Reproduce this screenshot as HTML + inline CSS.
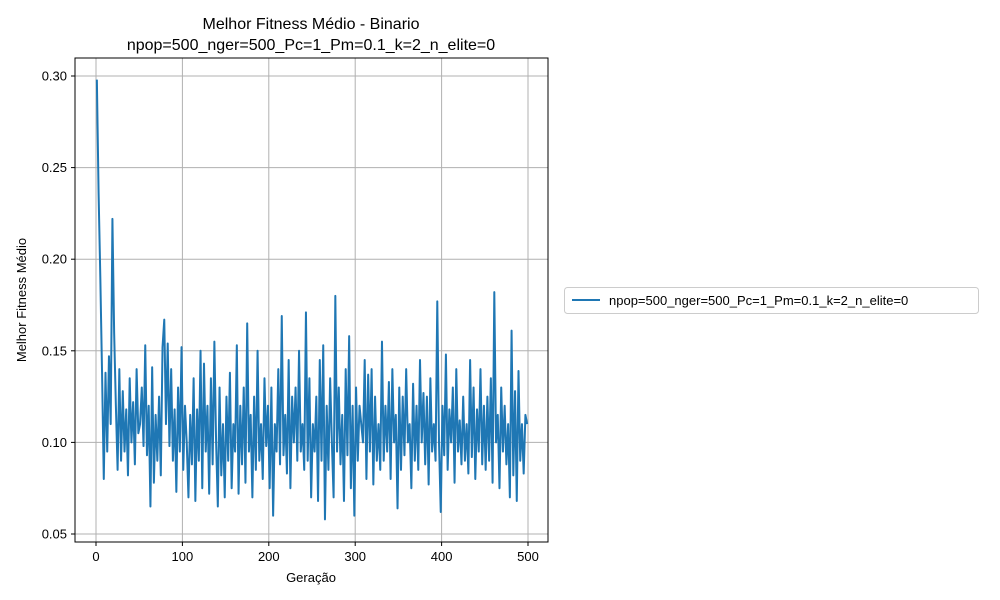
<!DOCTYPE html>
<html><head><meta charset="utf-8">
<style>
html,body{margin:0;padding:0;background:#fff;}
svg{display:block;font-family:"Liberation Sans","DejaVu Sans",sans-serif;}
</style></head>
<body>
<svg id="chart" width="1000" height="600" viewBox="0 0 1000 600">
<text x="311" y="29" font-size="16" text-anchor="middle" fill="#000">Melhor Fitness Médio - Binario</text>
<text x="311" y="50" font-size="16" text-anchor="middle" fill="#000">npop=500_nger=500_Pc=1_Pm=0.1_k=2_n_elite=0</text>
<text x="311" y="582" font-size="13" text-anchor="middle" fill="#000">Geração</text>
<text x="0" y="0" font-size="13" text-anchor="middle" fill="#000" transform="translate(26,300) rotate(-90)">Melhor Fitness Médio</text>
<g id="grid"></g>
<g id="ticks"></g>
<path id="series" fill="none" stroke="#1f77b4" stroke-width="2" stroke-linejoin="round"></path>
<rect x="75" y="58" width="473" height="484" fill="none" stroke="#000" stroke-width="1"/>
<g>
<rect x="564.5" y="287.5" width="414" height="26" rx="3" fill="#fff" stroke="#ccc"/>
<line x1="572" y1="300" x2="600" y2="300" stroke="#1f77b4" stroke-width="2"/>
<text x="609" y="305" font-size="13" fill="#000">npop=500_nger=500_Pc=1_Pm=0.1_k=2_n_elite=0</text>
</g>
</svg>
<script>
const xStart = 1;
const xStep = 2;
const values = [
0.298,0.236,0.19,0.138,0.08,0.138,0.095,0.147,0.11,0.222,0.16,0.12,0.085,0.14,0.09,0.128,0.095,0.118,0.082,0.135,0.1,0.122,0.088,0.14,0.105,
0.11,0.13,0.098,0.153,0.093,0.12,0.065,0.141,0.078,0.115,0.09,0.125,0.082,0.152,0.167,0.11,0.154,0.098,0.14,0.09,0.118,0.073,0.13,0.095,0.152,
0.085,0.12,0.1,0.07,0.115,0.088,0.135,0.068,0.118,0.09,0.15,0.075,0.143,0.095,0.12,0.072,0.135,0.088,0.155,0.1,0.065,0.13,0.082,0.11,0.07,
0.125,0.09,0.138,0.075,0.11,0.095,0.153,0.072,0.12,0.088,0.13,0.078,0.165,0.095,0.115,0.07,0.125,0.085,0.15,0.09,0.11,0.08,0.135,0.098,0.12,
0.075,0.13,0.06,0.11,0.095,0.14,0.088,0.169,0.093,0.115,0.083,0.145,0.075,0.125,0.1,0.13,0.09,0.15,0.095,0.11,0.085,0.171,0.09,0.135,0.07,
0.11,0.095,0.125,0.068,0.145,0.09,0.153,0.058,0.12,0.085,0.135,0.1,0.07,0.18,0.095,0.13,0.088,0.115,0.068,0.14,0.093,0.158,0.075,0.12,0.06,
0.13,0.09,0.12,0.11,0.1,0.145,0.08,0.137,0.095,0.14,0.077,0.125,0.09,0.11,0.085,0.155,0.09,0.12,0.095,0.133,0.08,0.14,0.1,0.115,0.064,
0.13,0.085,0.125,0.093,0.14,0.1,0.11,0.075,0.132,0.09,0.12,0.085,0.145,0.1,0.127,0.088,0.125,0.077,0.135,0.095,0.11,0.09,0.177,0.1,0.062,
0.12,0.093,0.148,0.085,0.118,0.1,0.13,0.078,0.14,0.095,0.112,0.088,0.125,0.09,0.11,0.083,0.145,0.092,0.13,0.08,0.118,0.095,0.14,0.088,0.12,
0.085,0.125,0.09,0.135,0.078,0.182,0.1,0.115,0.075,0.13,0.095,0.12,0.088,0.11,0.07,0.161,0.082,0.128,0.068,0.139,0.09,0.11,0.083,0.115,0.11
];
const xTicks = [0,100,200,300,400,500];
const yTicks = [0.05,0.10,0.15,0.20,0.25,0.30];
const yTickLabels = ["0.05","0.10","0.15","0.20","0.25","0.30"];

const X0=96, X1=528, Y0=534, Y1=76;
function xs(v){return X0+(v-0)/(500-0)*(X1-X0);}
function ys(v){return Y0-(v-0.05)/(0.30-0.05)*(Y0-Y1);}
const NS="http://www.w3.org/2000/svg";
const grid=document.getElementById('grid'), ticks=document.getElementById('ticks');
function mk(tag,attrs,parent){const e=document.createElementNS(NS,tag);for(const k in attrs)e.setAttribute(k,attrs[k]);parent.appendChild(e);return e;}
xTicks.forEach(t=>{
  const x=xs(t);
  const g=mk('line',{x1:x,x2:x,y1:58,y2:542,stroke:'#b0b0b0','stroke-width':1},grid);
  
  
  const tk=mk('line',{x1:x,x2:x,y1:542,y2:546,stroke:'#000'},ticks);
  
  
  const lb=mk('text',{x:x,y:561,'font-size':13,'text-anchor':'middle',fill:'#000'},ticks);
  lb.textContent=String(t);
  
  
});
yTicks.forEach((t,i)=>{
  const y=ys(t);
  const g=mk('line',{x1:75,x2:548,y1:y,y2:y,stroke:'#b0b0b0','stroke-width':1},grid);
  
  
  const tk=mk('line',{x1:71,x2:75,y1:y,y2:y,stroke:'#000'},ticks);
  
  
  const lb=mk('text',{x:67,y:y+4.5,'font-size':13,'text-anchor':'end',fill:'#000'},ticks);
  lb.textContent=yTickLabels[i];
  
  
});
let d='';
values.forEach((v,i)=>{const x=xs(xStart+i*xStep),y=ys(v);d+=(i?'L':'M')+x.toFixed(2)+' '+y.toFixed(2);});
document.getElementById('series').setAttribute('d',d);
</script>
</body></html>
